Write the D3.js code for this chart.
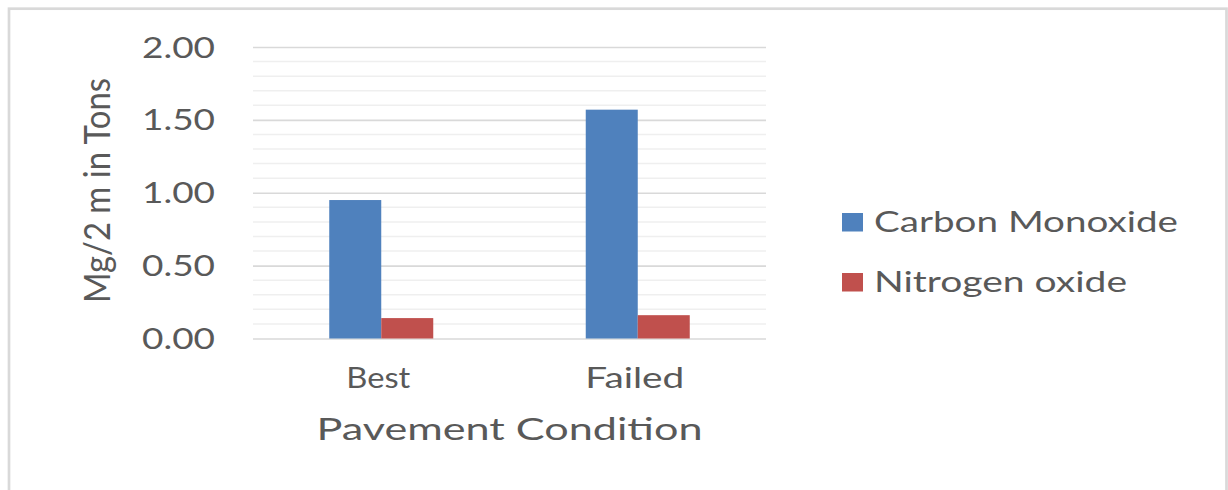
<!DOCTYPE html>
<html>
<head>
<meta charset="utf-8">
<script src="https://cdn.jsdelivr.net/npm/d3@7"></script>
<style>
  html, body { margin: 0; padding: 0; background: #ffffff; }
  svg { display: block; }
  text { font-family: Lato, "Open Sans", "Liberation Sans", sans-serif; fill: #595959; }
</style>
</head>
<body>
<svg id="chart" width="1228" height="490"></svg>
<script>
// Emissions per pavement condition
const categories = ["Best", "Failed"];
const seriesNames = ["Carbon Monoxide", "Nitrogen oxide"];
const carbonMonoxide = [0.95, 1.57];
const nitrogenOxide = [0.14, 0.16];
const yTickValues = [0, 0.5, 1.0, 1.5, 2.0];
const seriesColors = ["#4f81bd", "#c0504d"];
const yTitle = "Mg/2 m in Tons";
const xTitle = "Pavement Condition";

const seriesValues = [carbonMonoxide, nitrogenOxide];
const rows = categories.map((c, i) => ({
  category: c,
  values: seriesNames.map((s, j) => ({ series: s, value: seriesValues[j][i], color: seriesColors[j] }))
}));

const svg = d3.select("#chart");

// chart frame
svg.append("rect")
  .attr("x", 9).attr("y", 8.7)
  .attr("width", 1217.5).attr("height", 600)
  .attr("fill", "#ffffff")
  .attr("stroke", "#d9d9d9")
  .attr("stroke-width", 2.7);

const plot = { left: 253, right: 766, top: 47, bottom: 338.5 };

const x0 = d3.scaleBand()
  .domain(categories)
  .range([plot.left, plot.right])
  .paddingInner(0.5945)
  .paddingOuter(0.5945 / 2);

const x1 = d3.scaleBand()
  .domain(seriesNames)
  .range([0, x0.bandwidth()])
  .padding(0);

const y = d3.scaleLinear()
  .domain([0, 2])
  .range([plot.bottom, plot.top]);

// minor gridlines
const minor = y.ticks(20).filter(t => !yTickValues.some(v => Math.abs(v - t) < 1e-9));
svg.append("g")
  .selectAll("line")
  .data(minor)
  .join("line")
  .attr("x1", plot.left).attr("x2", plot.right)
  .attr("y1", d => y(d)).attr("y2", d => y(d))
  .attr("stroke", "#efefef")
  .attr("stroke-width", 1.5);

// major gridlines
svg.append("g")
  .call(d3.axisLeft(y).tickValues(yTickValues).tickSize(-(plot.right - plot.left)).tickFormat(""))
  .attr("transform", `translate(${plot.left},0)`)
  .call(g => g.select(".domain").remove())
  .call(g => g.selectAll(".tick line").attr("stroke", "#d9d9d9").attr("stroke-width", 1.6));

// y axis labels
svg.append("g")
  .attr("transform", "translate(215,0)")
  .call(d3.axisLeft(y).tickValues(yTickValues).tickSize(0).tickPadding(0).tickFormat(d3.format(".2f")))
  .call(g => g.select(".domain").remove())
  .call(g => g.selectAll(".tick text")
    .attr("x", 0)
    .attr("dy", 0)
    .attr("y", 10)
    .attr("font-size", 28)
    .attr("fill", "#595959")
    .attr("font-family", "Lato, 'Open Sans', sans-serif")
    .attr("text-anchor", "end")
    .attr("textLength", 73)
    .attr("lengthAdjust", "spacingAndGlyphs"));

// bars
svg.append("g")
  .selectAll("g")
  .data(rows)
  .join("g")
  .attr("transform", d => `translate(${x0(d.category)},0)`)
  .selectAll("rect")
  .data(d => d.values)
  .join("rect")
  .attr("x", d => x1(d.series))
  .attr("width", x1.bandwidth())
  .attr("y", d => y(d.value))
  .attr("height", d => y(0) - y(d.value))
  .attr("fill", d => d.color);

// category labels
const catWidths = { "Best": 64, "Failed": 99 };
svg.append("g")
  .selectAll("text")
  .data(categories)
  .join("text")
  .attr("x", d => x0(d) + x0.bandwidth() / 2 - 3)
  .attr("y", 388)
  .attr("text-anchor", "middle")
  .attr("font-size", 28)
  .attr("textLength", d => catWidths[d])
  .attr("lengthAdjust", "spacingAndGlyphs")
  .text(d => d);

// x axis title
svg.append("text")
  .attr("x", (plot.left + plot.right) / 2)
  .attr("y", 440)
  .attr("text-anchor", "middle")
  .attr("font-size", 30)
  .attr("textLength", 386)
  .attr("lengthAdjust", "spacingAndGlyphs")
  .text(xTitle);

// y axis title
svg.append("g")
  .attr("transform", "translate(110,190.5) scale(1.33,1) rotate(-90)")
  .append("text")
  .attr("x", 0).attr("y", 0)
  .attr("text-anchor", "middle")
  .attr("font-size", 28)
  .attr("textLength", 225)
  .attr("lengthAdjust", "spacingAndGlyphs")
  .text(yTitle);

// legend
const legendWidths = [304, 253];
const legend = svg.append("g")
  .selectAll("g")
  .data(seriesNames)
  .join("g")
  .attr("transform", (d, i) => `translate(842,${213 + i * 60})`);
legend.append("rect")
  .attr("width", 21).attr("height", 18.5)
  .attr("fill", (d, i) => seriesColors[i]);
legend.append("text")
  .attr("x", 32)
  .attr("y", 19)
  .attr("font-size", 29)
  .attr("textLength", (d, i) => legendWidths[i])
  .attr("lengthAdjust", "spacingAndGlyphs")
  .text(d => d);
</script>
</body>
</html>
